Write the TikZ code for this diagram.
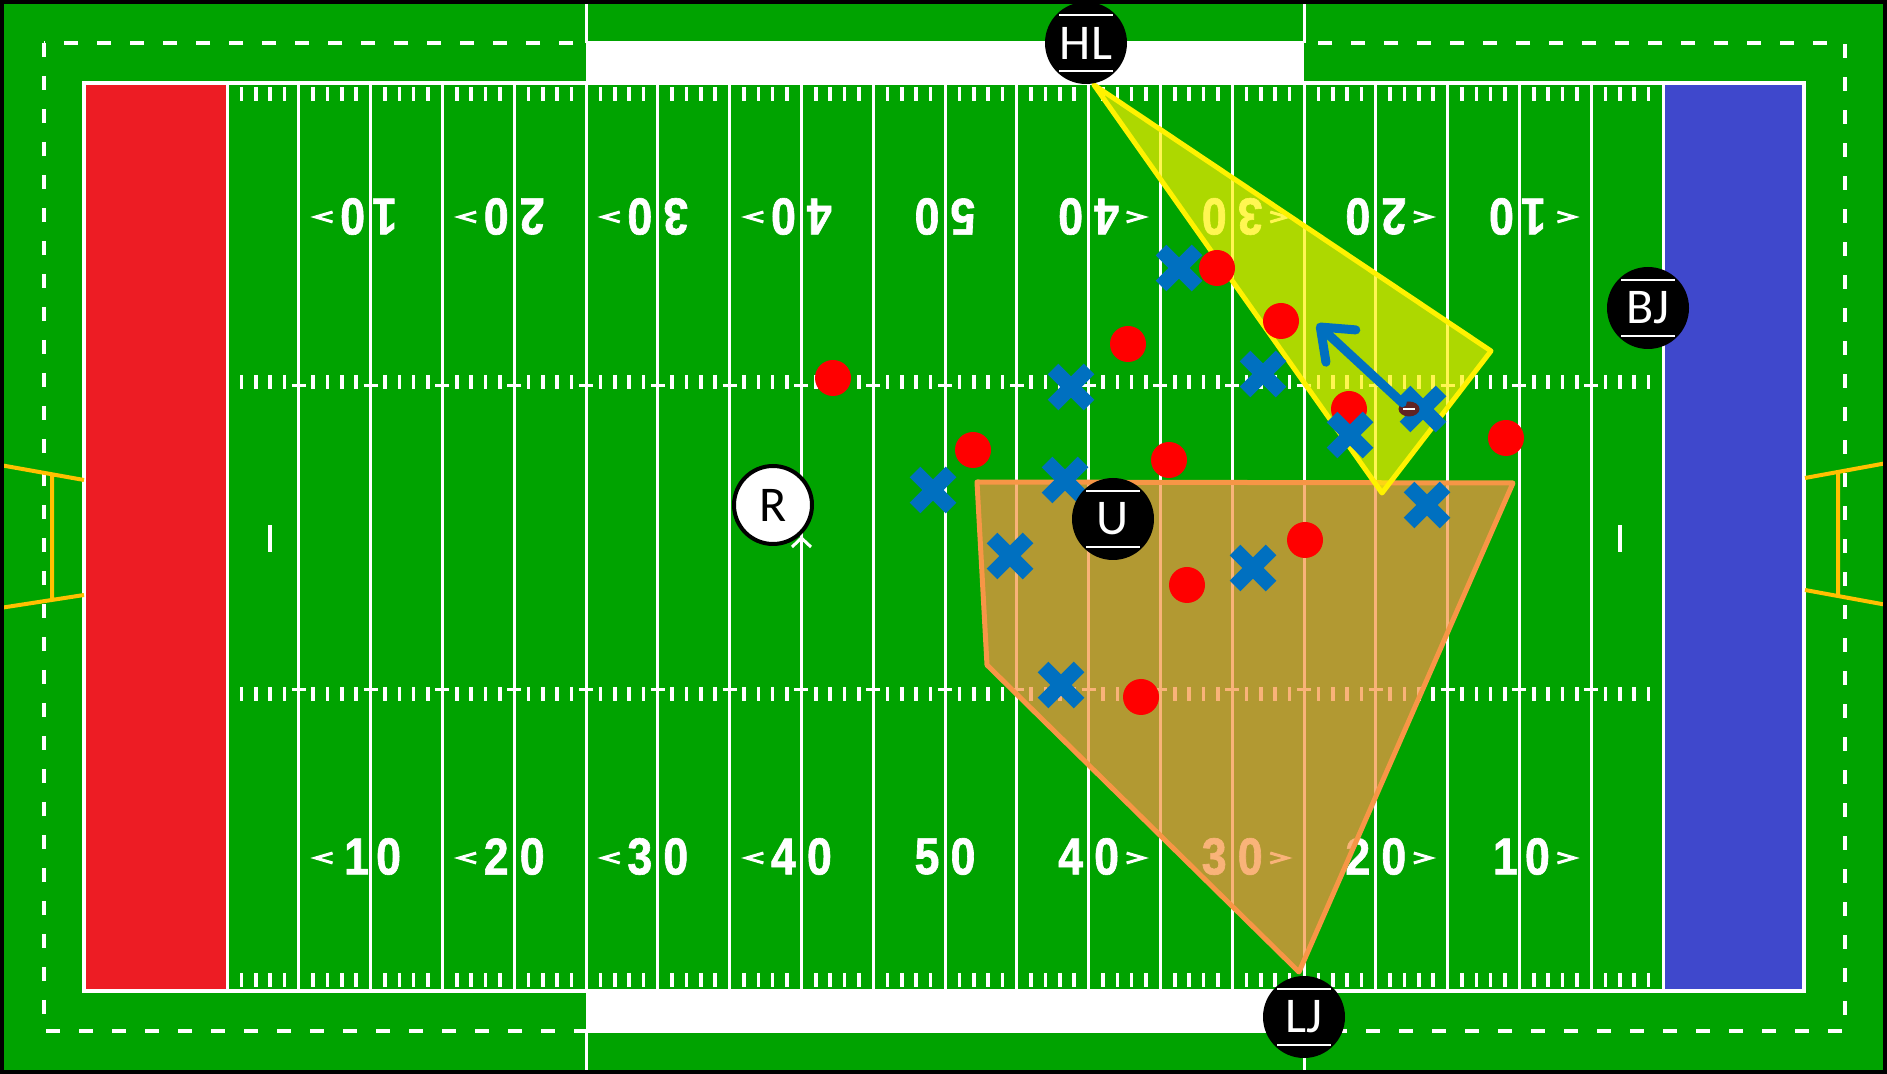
\documentclass[tikz,border=0pt]{standalone}
\usepackage{fontspec}
\newfontfamily\offfont{Carlito}
\newfontfamily\yardfont[FakeStretch=0.86,FakeBold=1.2]{Liberation Sans}
\usetikzlibrary{arrows.meta,shapes.geometric}
\definecolor{turf}{RGB}{0,163,0}
\definecolor{redzone}{RGB}{237,28,36}
\definecolor{bluezone}{RGB}{63,72,204}
\definecolor{xblue}{RGB}{0,112,192}
\definecolor{zoneorange}{RGB}{247,150,70}
\definecolor{postgold}{RGB}{255,192,0}
\definecolor{ballbrown}{RGB}{96,36,36}
\tikzset{
  fieldline/.style={white, line width=1.5pt},
  hashtick/.style={white, line width=1.8pt},
  yardnum/.style={text=white, inner sep=0pt, font=\yardfont\bfseries\fontsize{26}{26}\selectfont},
  yardarrow/.style={white, line width=1.5pt, line join=miter},
  official/.style={circle, fill=black, text=white, inner sep=0pt, minimum size=41pt,
    font=\offfont\fontsize{25}{25}\selectfont,
    path picture={\draw[white, line width=1.4pt]
      ([shift={(-13.5pt,14pt)}]path picture bounding box.center) -- ++(27pt,0pt)
      ([shift={(-13.5pt,-14pt)}]path picture bounding box.center) -- ++(27pt,0pt);}},
  referee/.style={circle, fill=white, draw=black, line width=2pt, text=black, inner sep=0pt,
    minimum size=39pt, font=\offfont\fontsize{25}{25}\selectfont},
  dplayer/.style={circle, fill=red, inner sep=0pt, minimum size=18pt},
  xplayer/.pic={\draw[xblue, line width=7.5pt] (-9pt,-9pt) -- (9pt,9pt) (-9pt,9pt) -- (9pt,-9pt);},
  ball/.style={ellipse, fill=ballbrown, inner sep=0pt, minimum width=10.5pt, minimum height=7.5pt,
    path picture={\draw[white, line width=1pt] ([xshift=-3pt]path picture bounding box.center) -- ++(6pt,0pt);}},
  zonepoly/.style={line width=2.5pt, line join=round},
  goalpost/.style={postgold, line width=2pt}
}
\begin{document}
\begin{tikzpicture}[x=0.5pt,y=-0.5pt]
\useasboundingbox (0,0) rectangle (1887,1074);
\fill[turf] (0,0) rectangle (1887,1074);
% dashed limit line
\draw[white, line width=2pt, dash pattern=on 7pt off 9.5pt] (44,43) rectangle (1845,1031);
% team boxes
\fill[white] (586,41) rectangle (1304,83);
\fill[white] (586,991) rectangle (1304,1033);
\draw[fieldline] (586,3) -- (586,43) (1304,3) -- (1304,43) (586,1031) -- (586,1071) (1304,1031) -- (1304,1071);
% end zones
\fill[redzone] (84,83) rectangle (227,991);
\fill[bluezone] (1663,83) rectangle (1804,991);
\draw[white, line width=1.6pt] (84,83) rectangle (1804,991);
% yard lines
\foreach \k in {0,5,...,100}{
  \draw[fieldline] ({227+14.36*\k},83) -- ({227+14.36*\k},991);
}
% crossbars on hash rows
\foreach \k in {5,10,...,95}{
  \draw[fieldline] ({227+14.36*\k-7},386) -- ({227+14.36*\k+7},386)
                   ({227+14.36*\k-7},690) -- ({227+14.36*\k+7},690);
}
% yard ticks
\foreach \a in {0,5,...,95}{
  \foreach \b in {1,2,3,4}{
    \pgfmathsetmacro\tx{227+14.36*(\a+\b)}
    \draw[hashtick] (\tx,87) -- (\tx,101) (\tx,375) -- (\tx,389)
                    (\tx,687) -- (\tx,701) (\tx,973) -- (\tx,987);
  }
}
% conversion marks
\draw[white, line width=2pt] (270,525) -- (270,552) (1620,525) -- (1620,552);
% mark at centre of 40 line
\draw[fieldline] (792,547) -- (801.4,538) -- (811,547);
% yard numbers
\foreach \k/\d/\s in {10/1/-1,20/2/-1,30/3/-1,40/4/-1,50/5/0,60/4/1,70/3/1,80/2/1,90/1/1}{
  \pgfmathsetmacro\lx{227+14.36*\k}
  \pgfmathsetmacro\off{ifthenelse(\d==1,14,18)}
  \node[yardnum] (b\k-a) at (\lx-\off,856.5) {\d};
  \node[yardnum] (b\k-b) at (\lx+18,856.5) {0};
  \node[yardnum, rotate=180] (t\k-a) at (\lx+\off,216.5) {\d};
  \node[yardnum, rotate=180] (t\k-b) at (\lx-18,216.5) {0};
  \ifnum\s=0\else
    \draw[yardarrow] (\lx+\s*38,853) -- (\lx+\s*55,858) -- (\lx+\s*38,863);
    \draw[yardarrow] (\lx+\s*38,212) -- (\lx+\s*55,217) -- (\lx+\s*38,222);
  \fi
}
% goal posts
\draw[goalpost] (0,465) -- (84,480) (0,608) -- (84,595) (52,474) -- (52,600);
\draw[goalpost] (1805,478) -- (1887,463) (1805,590) -- (1887,605) (1838,472) -- (1838,595);
% zones of responsibility
\coordinate (o1) at (977,482);
\coordinate (o2) at (1513,483);
\coordinate (o3) at (1299,972);
\coordinate (o4) at (987,665);
\fill[zoneorange, fill opacity=0.72] (o1) -- (o2) -- (o3) -- (o4) -- cycle;
\draw[zonepoly, zoneorange] (o1) -- (o2) -- (o3) -- (o4) -- cycle;
\coordinate (y1) at (1094,85);
\coordinate (y2) at (1491,351);
\coordinate (y3) at (1382,493);
\fill[yellow, fill opacity=0.68] (y1) -- (y2) -- (y3) -- cycle;
\draw[zonepoly, yellow] (y1) -- (y2) -- (y3) -- cycle;
% defence (red)
\node[dplayer] (d1) at (1217,268) {};
\node[dplayer] (d2) at (1281,321) {};
\node[dplayer] (d3) at (1128,344) {};
\node[dplayer] (d4) at (833,378) {};
\node[dplayer] (d5) at (1349,409) {};
\node[dplayer] (d6) at (973,450) {};
\node[dplayer] (d7) at (1169,460) {};
\node[dplayer] (d8) at (1506,438) {};
\node[dplayer] (d9) at (1305,540) {};
\node[dplayer] (d10) at (1187,585) {};
\node[dplayer] (d11) at (1141,697) {};
% offence (blue X)
\pic (x1) at (1179,268) {xplayer};
\pic (x2) at (1071,387) {xplayer};
\pic (x3) at (1263,374) {xplayer};
\pic (x4) at (1423,409) {xplayer};
\pic (x5) at (1350,435) {xplayer};
\pic (x6) at (1065,480) {xplayer};
\pic (x7) at (933,490) {xplayer};
\pic (x8) at (1427,505) {xplayer};
\pic (x9) at (1010,556) {xplayer};
\pic (x10) at (1253,568) {xplayer};
\pic (x11) at (1061,685) {xplayer};
% ball and pass
\node[ball] (ball) at (1409,409) {};
\coordinate (atip) at (1317,324);
\draw[xblue, line width=4.5pt, line cap=round,
  -{Straight Barb[length=14pt,width=22pt,line width=4.5pt,round]}] (ball) -- (atip);
% officials
\node[official] (HL) at (1086,43) {HL};
\node[official] (BJ) at (1648,308) {BJ};
\node[official] (LJ) at (1304,1017) {LJ};
\node[official] (U) at (1113,519) {U};
\node[referee] (R) at (773,505) {R};
% frame
\draw[black, line width=2pt] (2,2) rectangle (1885,1072);
\end{tikzpicture}
\end{document}
